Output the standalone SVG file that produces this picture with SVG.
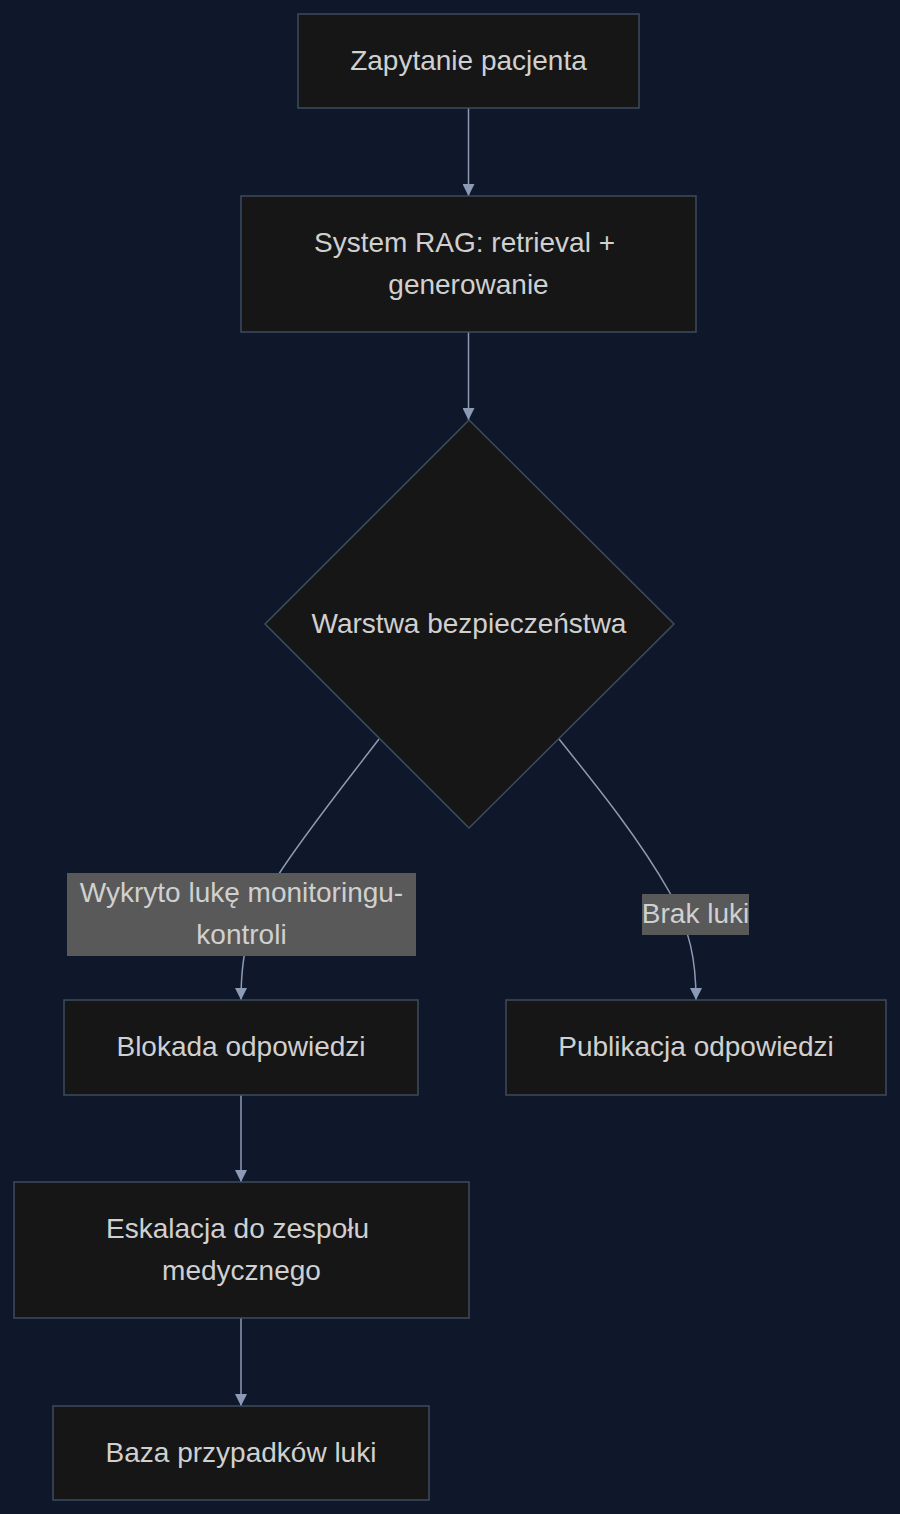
<svg xmlns="http://www.w3.org/2000/svg" width="900" height="1514" viewBox="0 0 900 1514">
<style>
.bg{fill:#0f172a}
.node{fill:#161616;stroke:#3e4c5f;stroke-width:1.5}
.t{font-family:"Liberation Sans",Arial,sans-serif;font-size:28px;fill:#d0d0d0;text-anchor:middle;dominant-baseline:central}
.edge{fill:none;stroke:#8c9bb5;stroke-width:1.5}
.lbl{fill:#595959}
</style>
<defs>
<marker id="arr" viewBox="0 0 12 12" refX="12" refY="6" markerWidth="12" markerHeight="12" markerUnits="userSpaceOnUse" orient="auto">
<path d="M0,0 L12,6 L0,12 z" fill="#8c9bb5"/>
</marker>
</defs>
<rect class="bg" x="0" y="0" width="900" height="1514"/>
<g id="connectors">
<path class="edge" d="M468.5,108 L468.5,196" marker-end="url(#arr)"/>
<path class="edge" d="M468.5,332 L468.5,420" marker-end="url(#arr)"/>
<path class="edge" d="M379,739 C340,790 300,840 275,880 C252,915 241,945 241,1000" marker-end="url(#arr)"/>
<path class="edge" d="M559,739 C600,790 640,840 670,893 C690,930 696,960 696,1000" marker-end="url(#arr)"/>
<path class="edge" d="M241,1095 L241,1182" marker-end="url(#arr)"/>
<path class="edge" d="M241,1318 L241,1406" marker-end="url(#arr)"/>
</g>
<g id="edge-labels">
<g id="label-wykryto">
<rect class="lbl" x="67" y="873" width="349" height="83"/>
<text class="t" x="241.5" y="892">Wykryto lukę monitoringu-</text>
<text class="t" x="241.5" y="934">kontroli</text>
</g>
<g id="label-brak">
<rect class="lbl" x="642" y="894" width="107" height="41"/>
<text class="t" x="695.5" y="913">Brak luki</text>
</g>
</g>
<g id="n-zapytanie">
<rect class="node" x="298" y="14" width="341" height="94"/>
<text class="t" x="468.5" y="60">Zapytanie pacjenta</text>
</g>
<g id="n-rag">
<rect class="node" x="241" y="196" width="455" height="136"/>
<text class="t" x="464.5" y="242">System RAG: retrieval +</text>
<text class="t" x="468.5" y="284">generowanie</text>
</g>
<g id="n-warstwa">
<polygon class="node" points="469,420 674,624 469,828 265,624"/>
<text class="t" x="469" y="623">Warstwa bezpieczeństwa</text>
</g>
<g id="n-blokada">
<rect class="node" x="64" y="1000" width="354" height="95"/>
<text class="t" x="241" y="1046">Blokada odpowiedzi</text>
</g>
<g id="n-publikacja">
<rect class="node" x="506" y="1000" width="380" height="95"/>
<text class="t" x="696" y="1046">Publikacja odpowiedzi</text>
</g>
<g id="n-eskalacja">
<rect class="node" x="14" y="1182" width="455" height="136"/>
<text class="t" x="237.5" y="1228">Eskalacja do zespołu</text>
<text class="t" x="241.5" y="1270">medycznego</text>
</g>
<g id="n-baza">
<rect class="node" x="53" y="1406" width="376" height="94"/>
<text class="t" x="241" y="1452">Baza przypadków luki</text>
</g>
</svg>
